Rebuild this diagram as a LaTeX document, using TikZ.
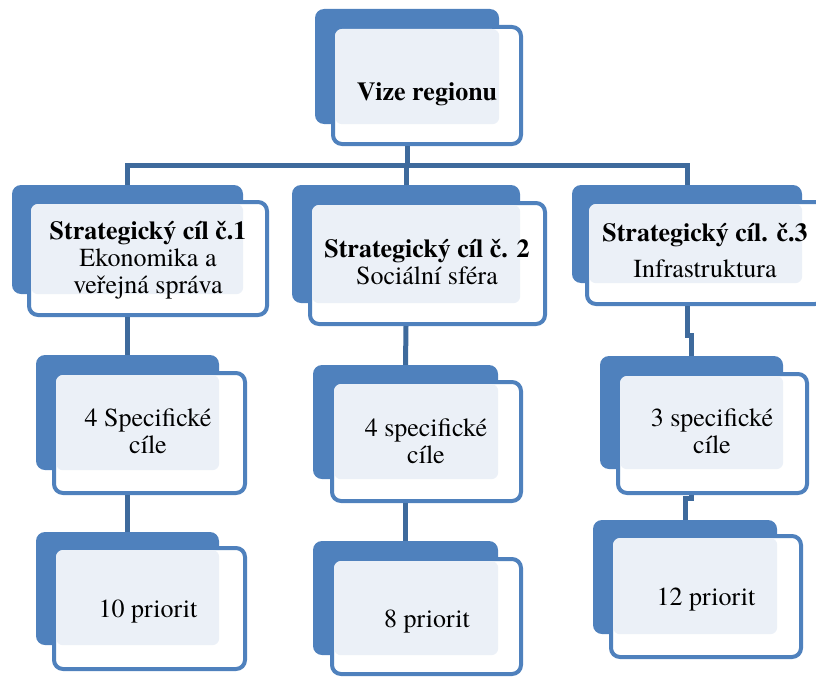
\documentclass[tikz,border=0pt]{standalone}
\usepackage{fontspec}
\setmainfont{TeX Gyre Termes}
\usetikzlibrary{positioning, calc}

\definecolor{tileblue}{HTML}{4F81BD}
\definecolor{linkblue}{HTML}{3E6A9C}
\definecolor{haze}{HTML}{EBF0F7}

\tikzset{
  back/.style={fill=tileblue, rounded corners=9pt, inner sep=0pt},
  front/.style={draw=tileblue, line width=4pt, fill=white, rounded corners=9pt, inner sep=0pt},
  caption/.style={align=center, inner sep=0pt, font=\fontsize{26}{27}\selectfont},
  link/.style={draw=linkblue, line width=5pt},
}

\begin{document}
\begin{tikzpicture}[x=1pt, y=-1pt]
    \useasboundingbox (0,0) rectangle (816,677);
    % top box
    \node[back, minimum width=184pt, minimum height=115pt] (vizeb) at (407,66.5) {};
    \node[front, minimum width=188pt, minimum height=117pt] (vize) at (427,85.5) {};
    % strategic goals
    \node[back, minimum width=231pt, minimum height=109pt] (cil1b) at (127.5,239.5) {};
    \node[front, minimum width=238pt, minimum height=113pt] (cil1) at (148,258.5) {};
    \node[back, minimum width=228pt, minimum height=118pt] (cil2b) at (406,244) {};
    \node[front, minimum width=235pt, minimum height=121pt] (cil2) at (427.5,263.5) {};
    \node[back, minimum width=230pt, minimum height=98pt] (cil3b) at (687,234) {};
    \node[front, minimum width=237pt, minimum height=102pt] (cil3) at (705.5,253) {};
    % specific goals
    \node[back, minimum width=183pt, minimum height=115pt] (spec1b) at (127.5,412.5) {};
    \node[front, minimum width=191pt, minimum height=120pt] (spec1) at (149.5,433) {};
    \node[back, minimum width=185pt, minimum height=114pt] (spec2b) at (405.5,422) {};
    \node[front, minimum width=189pt, minimum height=119pt] (spec2) at (426.5,441.5) {};
    \node[back, minimum width=183pt, minimum height=113pt] (spec3b) at (691.5,412.5) {};
    \node[front, minimum width=189pt, minimum height=119pt] (spec3) at (712.5,433.5) {};
    % priorities
    \node[back, minimum width=183pt, minimum height=113pt] (prior1b) at (127.5,588.5) {};
    \node[front, minimum width=191pt, minimum height=121pt] (prior1) at (149.5,608.5) {};
    \node[back, minimum width=185pt, minimum height=114pt] (prior2b) at (405.5,598) {};
    \node[front, minimum width=189pt, minimum height=115pt] (prior2) at (426.5,616.5) {};
    \node[back, minimum width=184pt, minimum height=114pt] (prior3b) at (685,577) {};
    \node[front, minimum width=190pt, minimum height=121pt] (prior3) at (706,596.5) {};
    % dotted shading where the boxes overlap
    \foreach \f/\b in {vize/vizeb, cil1/cil1b, cil2/cil2b, cil3/cil3b, spec1/spec1b, spec2/spec2b, spec3/spec3b, prior1/prior1b, prior2/prior2b, prior3/prior3b}
        \fill[haze, rounded corners=7pt] ([shift={(4,4)}]\f.north west) rectangle (\b.south east);
    % connectors
    \coordinate (bus) at (0,165);
    \draw[link] (vizeb |- vize.south) -- (vizeb |- bus);
    \draw[link] (cil1b.north) -- (cil1b |- bus) -- (cil3b |- bus) -- (cil3b.north);
    \draw[link] (cil2b |- bus) -- (cil2b.north);
    \draw[link] (cil1b |- cil1.south) -- (spec1b.north);
    \draw[link] (spec1b |- spec1.south) -- (prior1b.north);
    \draw[link] (cil2b |- cil2.south) -- (spec2b.north);
    \draw[link] (spec2b |- spec2.south) -- (prior2b.north);
    \draw[link] (cil3b |- cil3.south) -- ++(0,29) -| (spec3b.north);
    \draw[link] (spec3b |- spec3.south) -- ++(0,3) -| (prior3b.north);
    % texts
    \node[caption, anchor=base] (vizet) at (427,100) {\textbf{Vize regionu}};
    \node[caption] (cil1t) at (148,260) {\textbf{Strategický cíl č.1}\\Ekonomika a\\veřejná správa};
    \node[caption] (cil2t) at (427,262.5) {\textbf{Strategický cíl č. 2}\\Sociální sféra};
    \node[caption] (cil3t) at (705,251) {\textbf{Strategický cíl. č.3}\\[9pt]Infrastruktura};
    \node[caption] (spec1t) at (148,431.5) {4 Specifické\\cíle};
    \node[caption] (spec2t) at (426,441) {4 specifické\\cíle};
    \node[caption] (spec3t) at (712,431.5) {3 specifické\\cíle};
    \node[caption, anchor=base] (prior1t) at (148,617) {10 priorit};
    \node[caption, anchor=base] (prior2t) at (427,627) {8 priorit};
    \node[caption, anchor=base] (prior3t) at (706,605) {12 priorit};
\end{tikzpicture}
\end{document}
